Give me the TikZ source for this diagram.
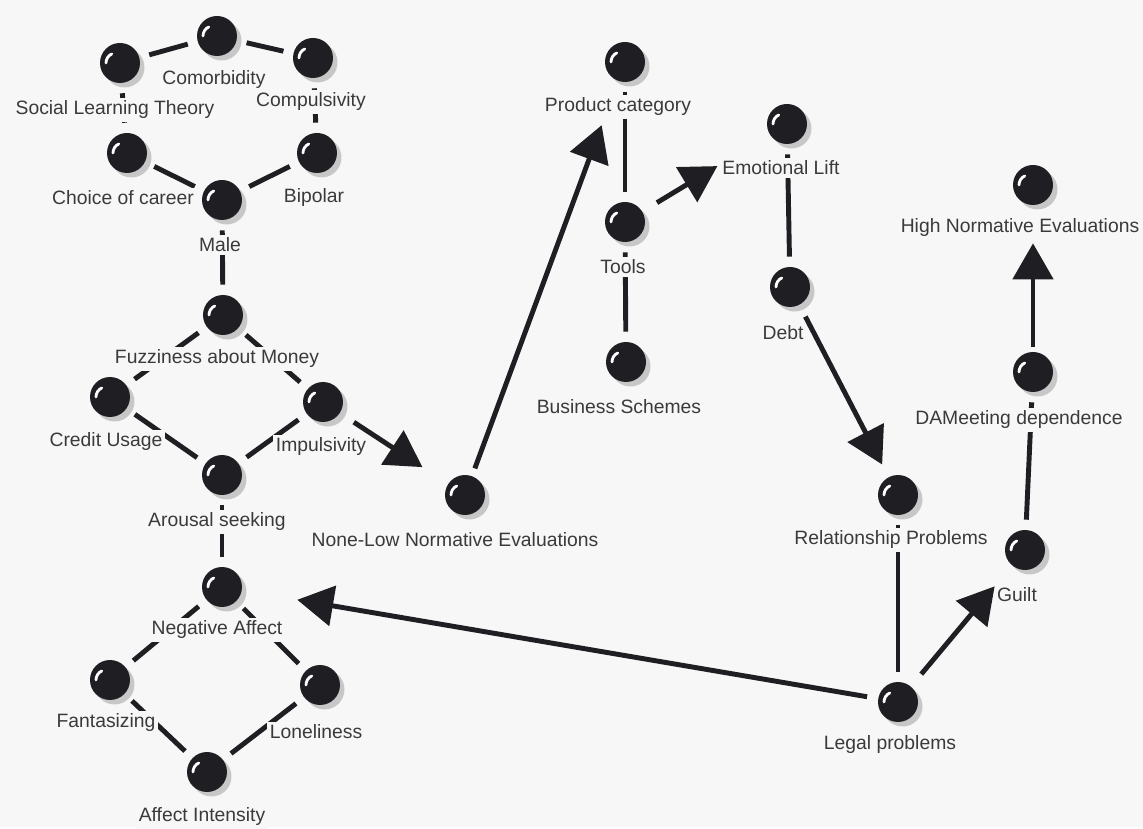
\documentclass[tikz,border=0pt]{standalone}
\usepackage{fontspec}
\setmainfont{Liberation Sans}
\usepackage{xcolor}
\usepackage{tikz}
\usetikzlibrary{arrows.meta,shadows}
\pgfdeclarelayer{paperlayer}
\pgfdeclarelayer{edgelayer}
\pgfsetlayers{paperlayer,edgelayer,main}
\definecolor{paper}{HTML}{F7F7F7}
\definecolor{ink}{HTML}{1F1F23}
\definecolor{txt}{HTML}{3A3A3A}

\begin{document}
\begin{tikzpicture}[x=0.02cm,y=-0.02cm,
  orb/.style={circle,minimum size=0.8cm,inner sep=0pt,fill=ink,
    drop shadow={shadow xshift=0.09cm,shadow yshift=-0.09cm,fill=black!22,opacity=1},
    path picture={\draw[white,line width=1.6pt,line cap=round]
      ([xshift=-0.28cm]path picture bounding box.center) arc[start angle=180,end angle=115,radius=0.2cm];}},
  lbl/.style={fill=paper,text=txt,inner sep=1.5pt,font=\fontsize{11}{13}\selectfont},
  link/.style={ink,line width=2.8pt,shorten <=0.2cm,shorten >=0.2cm},
  causal/.style={ink,line width=2.8pt,-{Triangle[length=0.72cm,width=0.8cm]}}]
\begin{pgfonlayer}{paperlayer}
\fill[paper] (0,0) rectangle (1143,827);
\end{pgfonlayer}
% left cluster
\node[orb] (comorb) at (217,36) {};
\node[orb] (slt) at (120,63) {};
\node[orb] (compuls) at (313,58) {};
\node[orb] (career) at (127,153) {};
\node[orb] (bipolar) at (317,153) {};
\node[orb] (male) at (222,200) {};
\node[orb] (fuzzy) at (223,315) {};
\node[orb] (credit) at (110,397) {};
\node[orb] (impuls) at (323,402) {};
\node[orb] (arousal) at (222,475) {};
\node[orb] (negaff) at (222,587) {};
\node[orb] (fantas) at (110,680) {};
\node[orb] (lonely) at (320,685) {};
\node[orb] (affint) at (207,772) {};
% middle and right
\node[orb] (nonelow) at (465,495) {};
\node[orb] (product) at (625,62) {};
\node[orb] (tools) at (625,222) {};
\node[orb] (business) at (626,362) {};
\node[orb] (emolift) at (787,124) {};
\node[orb] (debt) at (790,287) {};
\node[orb] (relprob) at (898,495) {};
\node[orb] (legal) at (898,702) {};
\node[orb] (guilt) at (1025,550) {};
\node[orb] (dameet) at (1033,372) {};
\node[orb] (highnorm) at (1033,185) {};
\begin{pgfonlayer}{edgelayer}
\draw[link] (slt) -- (comorb);
\draw[link] (comorb) -- (compuls);
\draw[link] (slt) -- (career);
\draw[link] (compuls) -- (bipolar);
\draw[link] (career) -- (male);
\draw[link] (bipolar) -- (male);
\draw[link] (male) -- (fuzzy);
\draw[link] (fuzzy) -- (credit);
\draw[link] (fuzzy) -- (impuls);
\draw[link] (credit) -- (arousal);
\draw[link] (impuls) -- (arousal);
\draw[link] (arousal) -- (negaff);
\draw[link] (negaff) -- (fantas);
\draw[link] (negaff) -- (lonely);
\draw[link] (fantas) -- (affint);
\draw[link] (lonely) -- (affint);
\draw[link] (product) -- (tools);
\draw[link] (tools) -- (business);
\draw[link] (emolift) -- (debt);
\draw[link] (relprob) -- (legal);
\draw[link] (guilt) -- (dameet);
% directed
\draw[causal,shorten <=0.33cm,shorten >=0.61cm] (impuls) -- (nonelow);
\draw[causal,shorten <=0.16cm,shorten >=0.94cm] (nonelow) -- (product);
\draw[causal,shorten <=0.34cm,shorten >=1.22cm] (tools) -- (emolift);
\draw[causal,shorten <=0.26cm,shorten >=0.28cm] (debt) -- (relprob);
\draw[causal,shorten <=0.22cm,shorten >=1.12cm] (legal) -- (negaff);
\draw[causal,shorten <=0.32cm,shorten >=0.54cm] (legal) -- (guilt);
\draw[causal,shorten <=0.10cm,shorten >=0.76cm] (dameet) -- (highnorm);
\end{pgfonlayer}
% labels
\node[lbl] (comorb-l) at (214,80) {Comorbidity};
\node[lbl] (slt-l) at (115,110) {Social Learning Theory};
\node[lbl] (compuls-l) at (311,102) {Compulsivity};
\node[lbl] (career-l) at (123,198) {Choice of career};
\node[lbl] (bipolar-l) at (314,198) {Bipolar};
\node[lbl] (male-l) at (220,245) {Male};
\node[lbl] (fuzzy-l) at (217,359) {Fuzziness about Money};
\node[lbl] (credit-l) at (106,442) {Credit Usage};
\node[lbl] (impuls-l) at (321,447) {Impulsivity};
\node[lbl] (arousal-l) at (217,522) {Arousal seeking};
\node[lbl] (negaff-l) at (217,630) {Negative Affect};
\node[lbl] (fantas-l) at (106,723) {Fantasizing};
\node[lbl] (lonely-l) at (316,732) {Loneliness};
\node[lbl] (affint-l) at (202,817) {Affect Intensity};
\node[lbl] (nonelow-l) at (455,540) {None-Low Normative Evaluations};
\node[lbl] (product-l) at (618,107) {Product category};
\node[lbl] (tools-l) at (623,267) {Tools};
\node[lbl] (business-l) at (619,407) {Business Schemes};
\node[lbl] (emolift-l) at (781,168) {Emotional Lift};
\node[lbl] (debt-l) at (783,333) {Debt};
\node[lbl] (relprob-l) at (891,540) {Relationship Problems};
\node[lbl] (legal-l) at (890,745) {Legal problems};
\node[lbl] (guilt-l) at (1017,595) {Guilt};
\node[lbl] (dameet-l) at (1019,420) {DAMeeting dependence};
\node[lbl] (highnorm-l) at (1020,228) {High Normative Evaluations};
\end{tikzpicture}
\end{document}
